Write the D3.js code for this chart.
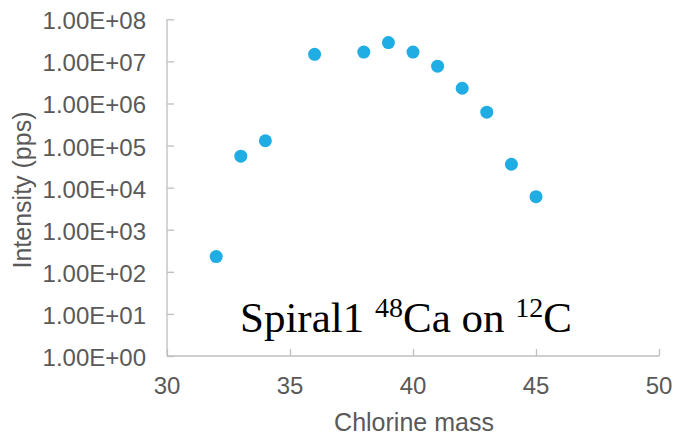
<!DOCTYPE html>
<html><head><meta charset="utf-8">
<script src="https://cdn.jsdelivr.net/npm/d3@7"></script>
<style>body{margin:0;background:#fff}svg{display:block}</style>
</head><body>
<svg id="chart" width="676" height="435"></svg>
<script>
const masses = [32, 33, 34, 36, 38, 39, 40, 41, 42, 43, 44, 45];
const intensities = [230, 5.6e4, 1.3e5, 1.47e7, 1.66e7, 2.8e7, 1.66e7, 7.7e6, 2.3e6, 6.2e5, 3.6e4, 6.1e3];
const xTicks = [30, 35, 40, 45, 50];
const yTicks = [1e0, 1e1, 1e2, 1e3, 1e4, 1e5, 1e6, 1e7, 1e8];
const yTickLabels = ["1.00E+00","1.00E+01","1.00E+02","1.00E+03","1.00E+04","1.00E+05","1.00E+06","1.00E+07","1.00E+08"];

(function () {
const svg = d3.select("#chart");
const mLeft = 167, mRight = 659, mTop = 19.3, mBottom = 356;
const x = d3.scaleLinear().domain([30, 50]).range([mLeft, mRight]);
const y = d3.scaleLog().domain([1, 1e8]).range([mBottom, mTop]);
const axisColor = "#bfbfbf", textColor = "#595959";

const yAxis = svg.append("g").attr("transform", `translate(${mLeft},0)`)
  .call(d3.axisRight(y).tickValues(yTicks).tickSize(7).tickFormat(""));
yAxis.select(".domain").remove();
yAxis.selectAll("line").attr("stroke", axisColor).attr("stroke-width", 1.3);

const xAxis = svg.append("g").attr("transform", `translate(0,${mBottom})`)
  .call(d3.axisTop(x).tickValues(xTicks).tickSize(7).tickFormat(""));
xAxis.select(".domain").remove();
xAxis.selectAll("line").attr("stroke", axisColor).attr("stroke-width", 1.3);

svg.append("line").attr("x1", mLeft).attr("x2", mLeft).attr("y1", mTop).attr("y2", mBottom)
  .attr("stroke", axisColor).attr("stroke-width", 1.3);
svg.append("line").attr("x1", mLeft).attr("x2", mRight).attr("y1", mBottom).attr("y2", mBottom)
  .attr("stroke", axisColor).attr("stroke-width", 1.3);

svg.append("g").selectAll("text").data(yTicks).join("text")
  .attr("x", 146).attr("y", d => y(d) + 10)
  .attr("text-anchor", "end").attr("fill", textColor)
  .style("font", "24px 'Liberation Sans', Arial, sans-serif")
  .text((d, i) => yTickLabels[i]);

svg.append("g").selectAll("text").data(xTicks).join("text")
  .attr("x", d => x(d)).attr("y", 394)
  .attr("text-anchor", "middle").attr("fill", textColor)
  .style("font", "24px 'Liberation Sans', Arial, sans-serif")
  .text(d => d);

svg.append("text").attr("x", 414).attr("y", 431).attr("text-anchor", "middle")
  .attr("fill", textColor).style("font", "25px 'Liberation Sans', Arial, sans-serif")
  .text("Chlorine mass");

svg.append("text").attr("transform", "translate(31,190) rotate(-90)")
  .attr("text-anchor", "middle").attr("fill", textColor)
  .style("font", "25px 'Liberation Sans', Arial, sans-serif")
  .text("Intensity (pps)");

svg.append("g").selectAll("circle").data(masses).join("circle")
  .attr("cx", d => x(d)).attr("cy", (d, i) => y(intensities[i]))
  .attr("r", 6.5).attr("fill", "#1fade3");

const t = svg.append("text").attr("x", 240).attr("y", 332).attr("fill", "#000")
  .style("font", "43px 'Liberation Serif', 'Times New Roman', serif");
t.append("tspan").text("Spiral1 ");
t.append("tspan").attr("dy", -15).style("font-size", "28px").text("48");
t.append("tspan").attr("dy", 15).text("Ca on ");
t.append("tspan").attr("dy", -15).style("font-size", "28px").text("12");
t.append("tspan").attr("dy", 15).text("C");
})();
</script>
</body></html>
